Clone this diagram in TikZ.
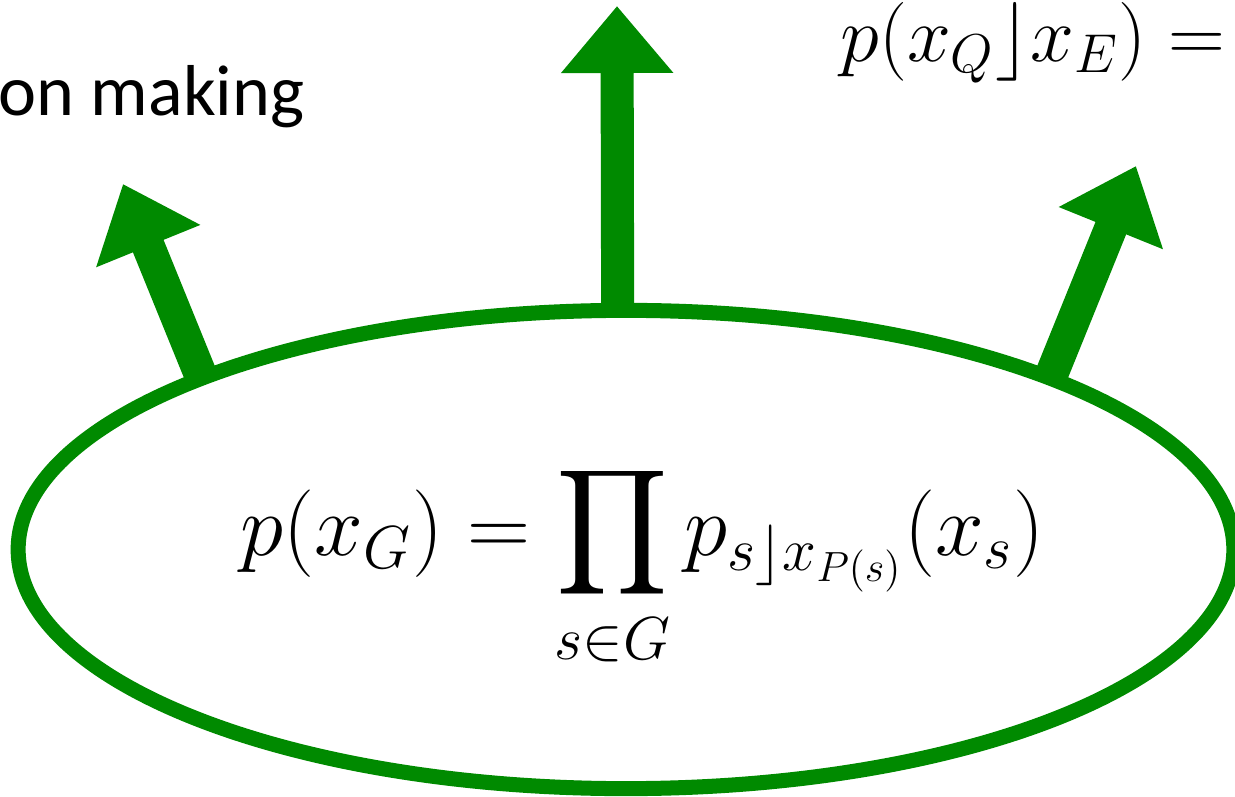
\documentclass[tikz,border=0pt]{standalone}
\usepackage{amsmath}
\usepackage{fontspec}
\setsansfont{Carlito}
\usepackage{tikz}
\usetikzlibrary{arrows.meta,shapes.geometric,positioning}
\definecolor{modelgreen}{RGB}{0,138,0}
\tikzstyle{outarrow} = [-{Triangle[length=0.67cm, width=1.08cm]}, line width=9.4pt, modelgreen]

\begin{document}
\begin{tikzpicture}[x=0.01cm, y=-0.01cm]
\useasboundingbox (0,0) rectangle (1235,797);
\node[ellipse, draw=modelgreen, line width=4.27pt, minimum width=12.15cm, minimum height=4.78cm, inner sep=0pt, outer sep=0pt] (joint) at (626,549.5) {};
\node[anchor=base west, inner sep=0pt, font=\fontsize{25}{30}\selectfont] (factor) at (240,555) {$\displaystyle p(x_G) = \prod_{s\in G} p_{s\rfloor x_{P(s)}}(x_s)$};

\node[anchor=base east, inner sep=0pt, font=\sffamily\fontsize{20.5}{24}\selectfont] (decision) at (305,115) {on making};
\node[anchor=base east, inner sep=0pt, scale=1.08, font=\fontsize{20.74}{25}\selectfont] (query) at (1226,61) {$p(x_Q\rfloor x_E) =$};

\coordinate (leftend) at (123,184);
\coordinate (topend) at (617,6);
\coordinate (rightend) at (1136,166);
\draw[outarrow] (joint.158.6) -- (leftend);
\draw[outarrow] (joint.92.2) -- (topend);
\draw[outarrow] (joint.22.4) -- (rightend);
\end{tikzpicture}
\end{document}
